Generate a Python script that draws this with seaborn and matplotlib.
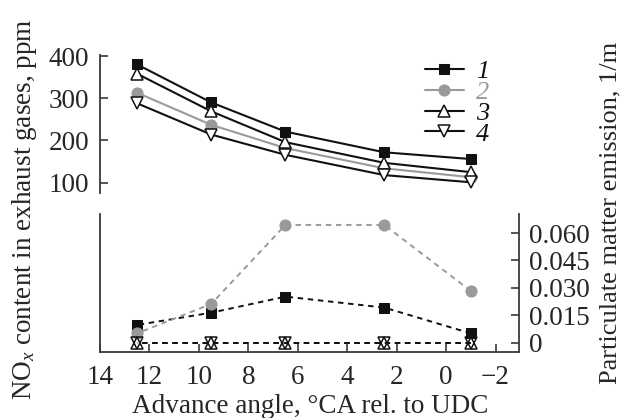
import matplotlib
matplotlib.use("Agg")
import matplotlib.pyplot as plt
import seaborn as sns
import numpy as np

sns.set_style("ticks")
plt.rcParams['font.family'] = ['Liberation Serif', 'DejaVu Serif']
plt.rcParams['mathtext.fontset'] = 'custom'
plt.rcParams['mathtext.rm'] = 'Liberation Serif'
plt.rcParams['mathtext.it'] = 'Liberation Serif:italic'

# Data
angle = [12.5, 9.5, 6.5, 2.5, -1.0]
labels = ["1", "2", "3", "4"]
nox_1 = [380, 290, 221, 172, 156]
nox_2 = [313, 237, 182, 134, 113]
nox_3 = [358, 269, 196, 147, 125]
nox_4 = [288, 214, 166, 118, 101]
pm_1 = [0.0097, 0.0164, 0.0252, 0.0192, 0.0051]
pm_2 = [0.0051, 0.0212, 0.0644, 0.0644, 0.0283]
pm_3 = [0.0, 0.0, 0.0, 0.0, 0.0]
pm_4 = [0.0, 0.0, 0.0, 0.0, 0.0]
x_ticks = [14, 12, 10, 8, 6, 4, 2, 0, -2]
x_tick_labels = ["14", "12", "10", "8", "6", "4", "2", "0", "\u22122"]
nox_ticks = [100, 200, 300, 400]
pm_ticks = [0, 0.015, 0.030, 0.045, 0.060]
pm_tick_labels = ["0", "0.015", "0.030", "0.045", "0.060"]

BLACK = "#111111"
GREY = "#9a9a9a"
SPINE = "#3a3a3a"
styles = [
    dict(color=BLACK, marker="s", markerfacecolor=BLACK, markeredgecolor=BLACK, markersize=7.5),
    dict(color=GREY, marker="o", markerfacecolor=GREY, markeredgecolor=GREY, markersize=8),
    dict(color=BLACK, marker="^", markerfacecolor="white", markeredgecolor=BLACK, markersize=8, markeredgewidth=1.1),
    dict(color=BLACK, marker="v", markerfacecolor="white", markeredgecolor=BLACK, markersize=8, markeredgewidth=1.1),
]

W, H = 623, 418
fig = plt.figure(figsize=(W / 100, H / 100), dpi=100)
ax_top = fig.add_axes([100 / W, 1 - 193 / H, 419 / W, (193 - 55) / H])
ax_bot = fig.add_axes([100 / W, 1 - 352 / H, 419 / W, (352 - 214) / H])
for a in (ax_top, ax_bot):
    a.patch.set_alpha(0)

FS = 19.5
# NOx (top)
for lab, ys, st in zip(labels, [nox_1, nox_2, nox_3, nox_4], styles):
    sns.lineplot(x=angle, y=ys, ax=ax_top, linewidth=1.5, label=lab, **st)
ax_top.set_xlim(14, -2.95)
ax_top.set_ylim(75.6, 402.4)
ax_top.set_yticks(nox_ticks)
ax_top.set_xticks([])
for s in ("top", "right", "bottom"):
    ax_top.spines[s].set_visible(False)
ax_top.spines["left"].set_color(SPINE)
ax_top.spines["left"].set_linewidth(1.3)
ax_top.tick_params(axis="y", direction="in", length=6, width=1.2, pad=8, labelsize=FS, color=SPINE)

leg = ax_top.legend(loc="upper left", bbox_to_anchor=(422 / W, 1 - 57 / H),
                    bbox_transform=fig.transFigure, frameon=False,
                    prop={"family": "Liberation Serif", "style": "italic", "size": 19},
                    handlelength=1.5, handletextpad=0.45, labelspacing=-0.1, borderpad=0.1,
                    borderaxespad=0)
for t, c in zip(leg.get_texts(), [BLACK, GREY, BLACK, BLACK]):
    t.set_color(c)

# PM (bottom)
pm_styles = [dict(s) for s in styles]
pm_styles[3]["markerfacecolor"] = "none"
for ys, st in zip([pm_1, pm_2, pm_3, pm_4], pm_styles):
    sns.lineplot(x=angle, y=ys, ax=ax_bot, linewidth=1.4, linestyle=(0, (2.8, 2.4)), **st)
ax_bot.set_xlim(14, -2.95)
ax_bot.set_ylim(-0.0051, 0.0704)
ax_bot.set_xticks(x_ticks)
ax_bot.set_xticklabels(x_tick_labels)
ax_bot.yaxis.tick_right()
ax_bot.set_yticks(pm_ticks)
ax_bot.set_yticklabels(pm_tick_labels)
ax_bot.spines["top"].set_visible(False)
for s in ("left", "right", "bottom"):
    ax_bot.spines[s].set_color(SPINE)
    ax_bot.spines[s].set_linewidth(1.3)
ax_bot.tick_params(axis="x", direction="in", length=6, width=1.2, pad=9, labelsize=FS, color=SPINE)
ax_bot.tick_params(axis="y", direction="in", length=6, width=1.2, pad=7, labelsize=FS, color=SPINE,
                   left=False, right=True, labelleft=False, labelright=True)

fig.text(25 / W, 1 - 209 / H, "NO$_x$ content in exhaust gases, ppm", rotation=90,
         ha="center", va="center", rotation_mode="anchor", fontsize=FS)
fig.text(610 / W, 1 - 213 / H, "Particulate matter emission, 1/m", rotation=90,
         ha="center", va="center", rotation_mode="anchor", fontsize=19)
fig.text(310 / W, 1 - 413 / H, "Advance angle, \u00b0CA rel. to UDC",
         ha="center", va="baseline", fontsize=FS)

fig.savefig("out.png", dpi=100)
